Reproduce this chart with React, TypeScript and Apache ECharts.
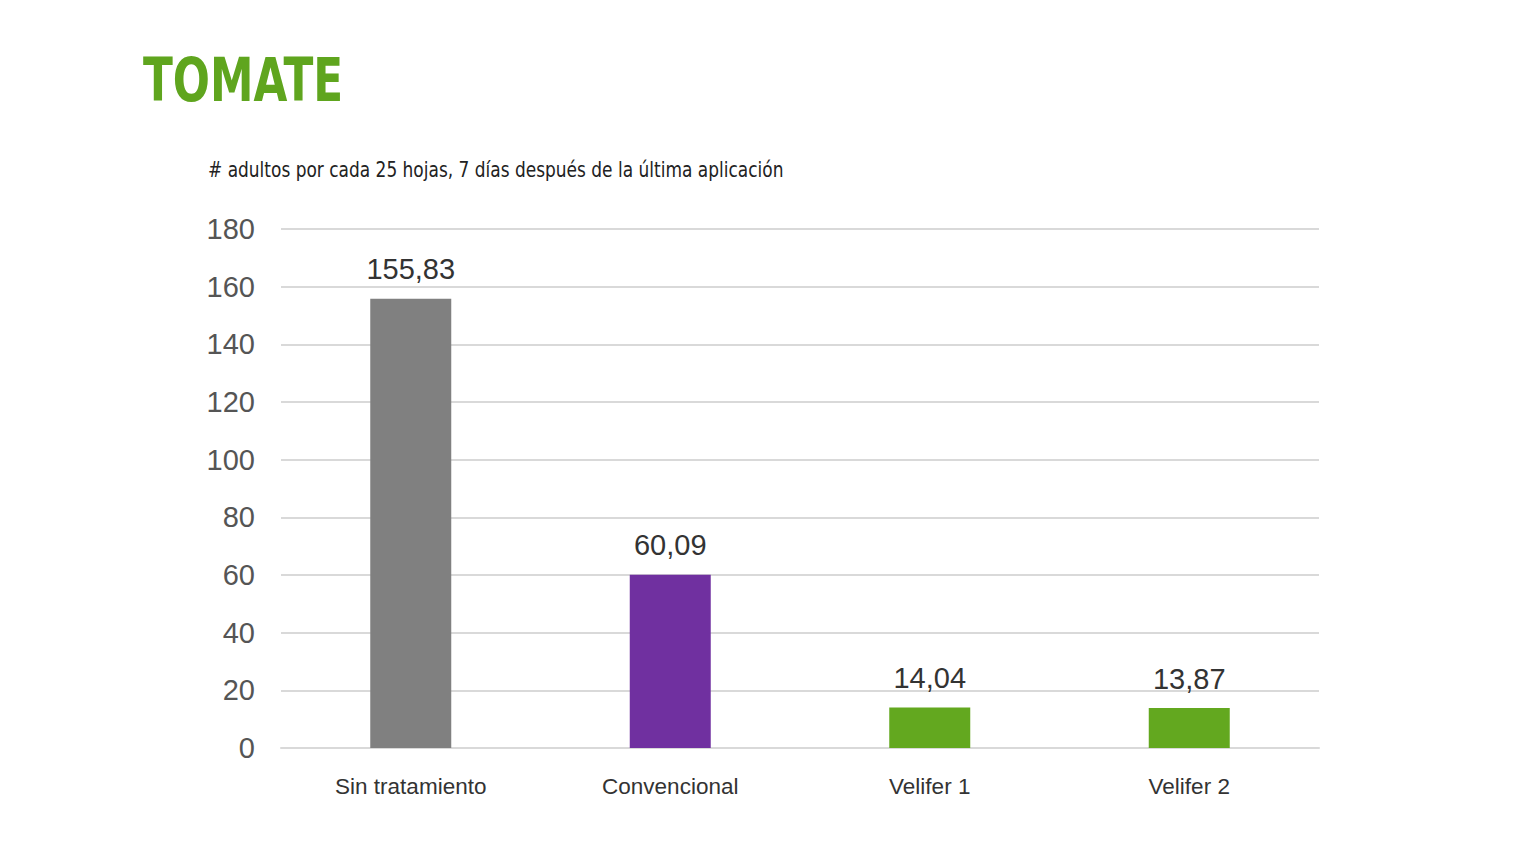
import React, { useEffect, useRef } from "react";
import * as echarts from "echarts";

const categories = ["Sin tratamiento", "Convencional", "Velifer 1", "Velifer 2"];
const values = [155.83, 60.09, 14.04, 13.87];
const barColors = ["#808080", "#7030a0", "#63a81f", "#63a81f"];
const yTicks = { min: 0, max: 180, interval: 20 };
const titleText = "TOMATE";
const subtitleText = "# adultos por cada 25 hojas, 7 días después de la última aplicación";

export default function App() {
  const ref = useRef<HTMLDivElement>(null);
  useEffect(() => {
    if (!ref.current) return;
    const chart = echarts.init(ref.current, null, { renderer: "svg" });
    chart.setOption({
      animation: false,
      backgroundColor: "#ffffff",
      graphic: [
        {
          type: "text",
          x: 143,
          y: 50,
          scaleX: 0.81,
          style: {
            text: titleText,
            font: "bold 60px 'DejaVu Sans Condensed', 'DejaVu Sans', sans-serif",
            fill: "#5fa51e",
            verticalAlign: "top",
          },
        },
        {
          type: "text",
          x: 208,
          y: 159,
          scaleX: 0.9,
          style: {
            text: subtitleText,
            font: "21px 'DejaVu Sans Condensed', 'DejaVu Sans', sans-serif",
            fill: "#222222",
            verticalAlign: "top",
          },
        },
      ],
      grid: { left: 281, right: 221, top: 229, bottom: 118, containLabel: false },
      xAxis: {
        type: "category",
        data: categories,
        axisTick: { show: false },
        axisLine: { show: true, lineStyle: { color: "#d9d9d9", width: 2 } },
        axisLabel: {
          margin: 27,
          fontSize: 22.5,
          color: "#333333",
          fontFamily: "'Liberation Sans', Arial, sans-serif",
        },
      },
      yAxis: {
        type: "value",
        min: yTicks.min,
        max: yTicks.max,
        interval: yTicks.interval,
        axisLine: { show: false },
        axisTick: { show: false },
        splitLine: { lineStyle: { color: "#d9d9d9", width: 2 } },
        axisLabel: {
          margin: 26,
          fontSize: 29,
          color: "#555555",
          fontFamily: "'Liberation Sans', Arial, sans-serif",
        },
      },
      series: [
        {
          type: "bar",
          barWidth: 81,
          data: values.map((v, i) => ({ value: v, itemStyle: { color: barColors[i] } })),
          label: {
            show: true,
            position: "top",
            distance: 15,
            fontSize: 29,
            color: "#333333",
            fontFamily: "'Liberation Sans', Arial, sans-serif",
            formatter: (p: any) => p.value.toFixed(2).replace(".", ","),
          },
        },
      ],
    });
    return () => chart.dispose();
  }, []);
  return (
    <div
      ref={ref}
      style={{ position: "fixed", left: 0, top: 0, width: 1540, height: 866 }}
    />
  );
}
